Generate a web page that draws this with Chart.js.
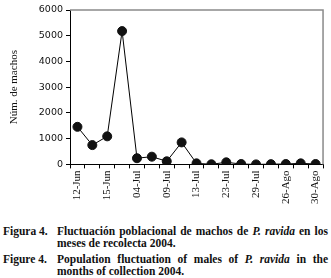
<!DOCTYPE html>
<html>
<head>
<meta charset="utf-8">
<script src="https://cdn.jsdelivr.net/npm/chart.js@4.4.1/dist/chart.umd.min.js"></script>
<style>
  html, body { margin: 0; padding: 0; background: #fff; }
  #wrap { position: relative; width: 331px; height: 210px; }
  .cap {
    font-family: "Liberation Serif", "Times New Roman", serif;
    font-weight: bold; font-size: 11.5px; line-height: 12px;
    color: #111; margin: 0 3px 0 3px; padding-left: 54px; text-indent: -54px;
    text-align: justify;
  }
  .cap span.lbl { display: inline-block; width: 54px; text-indent: 0; }
</style>
</head>
<body>
<div id="wrap"><canvas id="c" width="331" height="210"></canvas></div>
<div style="margin-top:15px">
  <p class="cap" style="margin-bottom:4px"><span class="lbl">Figura 4.</span>Fluctuación poblacional de machos de <i>P. ravida</i> en los meses de recolecta 2004.</p>
  <p class="cap" style="margin-top:0"><span class="lbl">Figure 4.</span>Population fluctuation of males of <i>P. ravida</i> in the months of collection 2004.</p>
</div>
<script>
// fechas de muestreo (solo se leen las etiquetas alternas)
const fechas = ['12-Jun', '', '15-Jun', '', '04-Jul', '', '09-Jul', '', '13-Jul', '', '23-Jul', '', '29-Jul', '', '26-Ago', '', '30-Ago'];
const machos = [1460, 750, 1090, 5180, 240, 300, 120, 855, 40, 5, 80, 15, 0, 10, 15, 40, 15];
const yTicks = [0, 1000, 2000, 3000, 4000, 5000, 6000];

const marco = {
  id: 'marco',
  afterDraw(chart) {
    const { ctx, chartArea: a } = chart;
    ctx.save();
    ctx.strokeStyle = '#8a8a8a';
    ctx.lineWidth = 1.5;
    ctx.beginPath();
    ctx.moveTo(a.left, a.top);
    ctx.lineTo(a.right, a.top);
    ctx.lineTo(a.right, a.bottom);
    ctx.stroke();
    ctx.restore();
  }
};

new Chart(document.getElementById('c').getContext('2d'), {
  type: 'line',
  data: {
    labels: fechas,
    datasets: [{
      data: machos,
      borderColor: '#000',
      borderWidth: 1,
      backgroundColor: '#111',
      pointBackgroundColor: '#111',
      pointBorderColor: '#111',
      pointRadius: 4.5,
      tension: 0,
    }],
  },
  options: {
    responsive: false,
    animation: false,
    layout: { padding: { top: 10, right: 7, left: 4, bottom: 4 } },
    plugins: { legend: { display: false }, tooltip: { enabled: false } },
    scales: {
      x: {
        offset: true,
        grid: { offset: true, drawOnChartArea: false, color: '#000', tickLength: 4 },
        border: { color: '#000', width: 1 },
        ticks: {
          autoSkip: false, maxRotation: 90, minRotation: 90, padding: 2,
          color: '#111',
          font: { family: '"Liberation Serif", "Times New Roman", serif', size: 11 },
        },
      },
      y: {
        min: 0, max: 6000,
        afterBuildTicks: (axis) => { axis.ticks = yTicks.map(v => ({ value: v })); },
        afterFit: (axis) => { axis.width = 66; },
        grid: { drawOnChartArea: false, color: '#000', tickLength: 4 },
        border: { color: '#000', width: 1 },
        ticks: {
          color: '#111', padding: 3,
          callback: (v) => String(v),
          font: { family: '"DejaVu Sans", Verdana, sans-serif', size: 9.5 },
        },
        title: {
          display: true, text: 'Núm. de machos', color: '#111', padding: { top: 4, bottom: 0 },
          font: { family: '"Liberation Serif", "Times New Roman", serif', size: 11 },
        },
      },
    },
  },
  plugins: [marco],
});
</script>
</body>
</html>
